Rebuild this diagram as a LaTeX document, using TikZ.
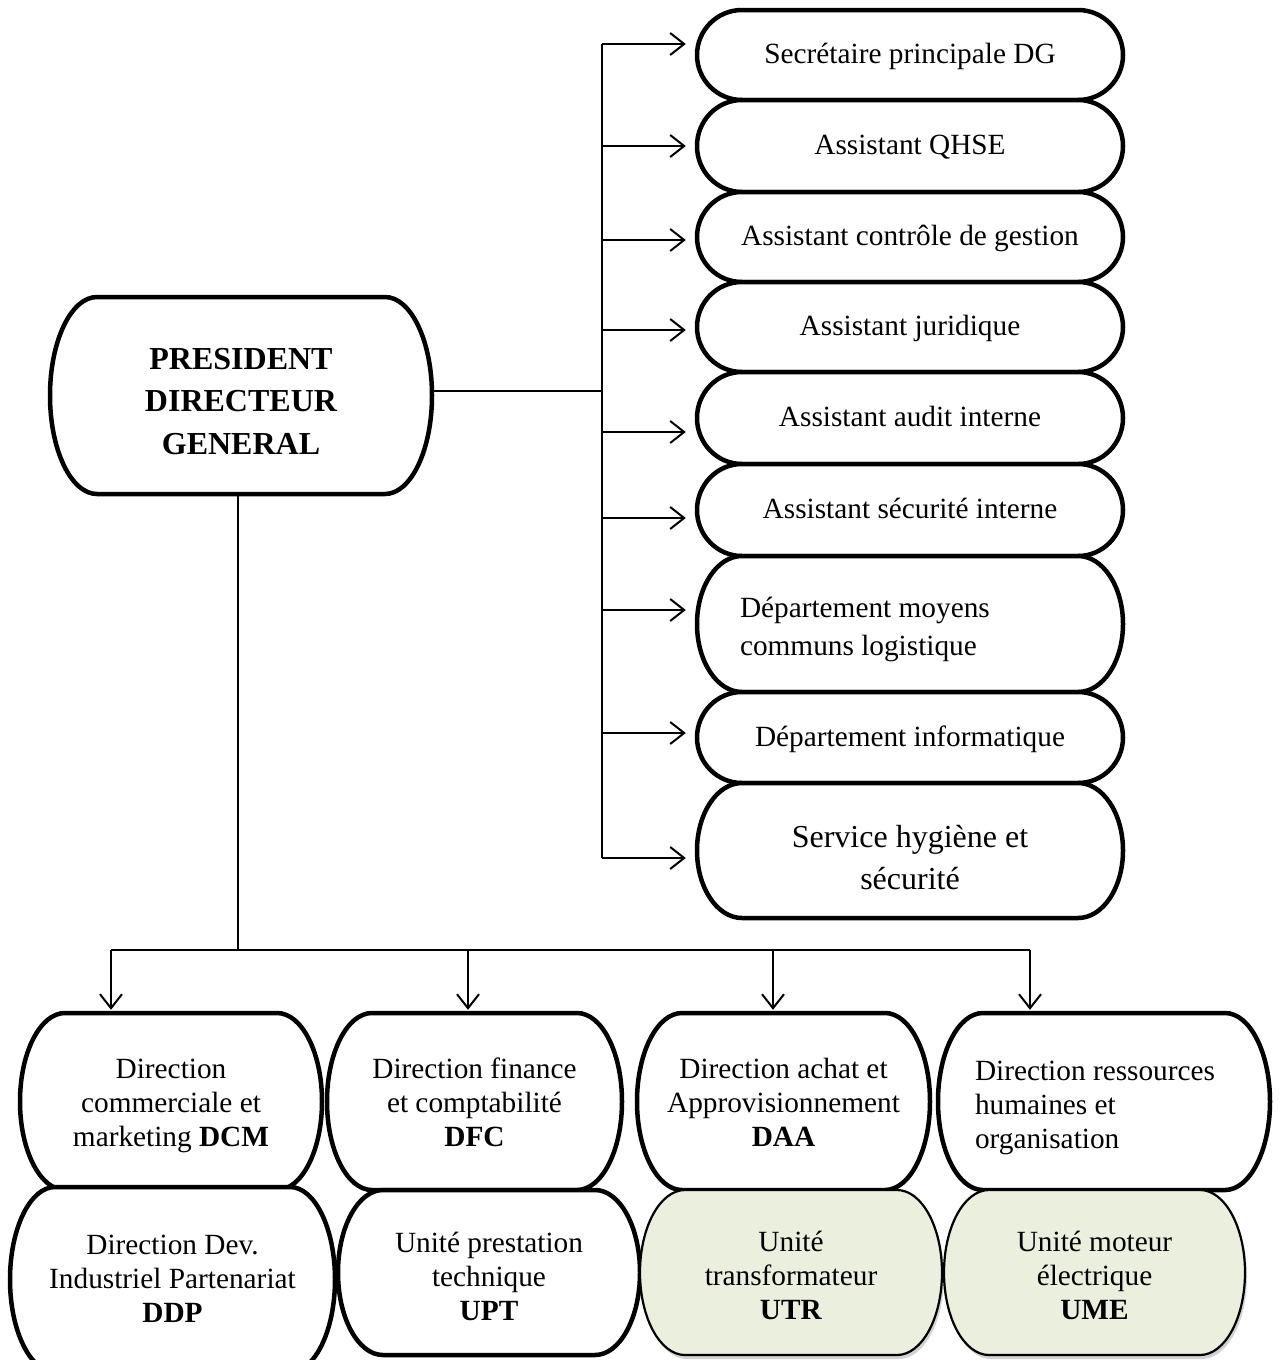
\documentclass[tikz,border=0pt]{standalone}
\usepackage{fontspec}
\setmainfont{Liberation Serif}
\usetikzlibrary{arrows.meta,shadows}
\definecolor{unitgreen}{RGB}{235,239,222}
\tikzset{
  boxline/.style={draw=black, line width=4.5pt, fill=white},
  greenline/.style={draw=black, line width=2.2pt, fill=unitgreen,
    drop shadow={shadow xshift=2pt, shadow yshift=-4pt, opacity=0.35}},
  conn/.style={line width=2pt},
  arr/.style={line width=2pt, -{Straight Barb[length=14pt,width=22pt,line width=2pt]}},
  txt/.style={inner sep=0pt, align=center, font=\fontsize{29.3}{34}\selectfont,
    execute at begin node=\strut, execute at end node=\strut, yshift=-2pt},
  bigtxt/.style={font=\fontsize{32}{42}\selectfont},
}
% [node options]{path style}{name}{x0}{y0}{x1}{y1}{rx}{text}
\newcommand\pill[9][]{%
  \pgfmathsetmacro\pxa{#4+#8}%
  \pgfmathsetmacro\pxb{#6-#8}%
  \pgfmathsetmacro\pry{(#7-#5)/2}%
  \pgfmathsetmacro\pcx{(#4+#6)/2}%
  \pgfmathsetmacro\pcy{(#5+#7)/2}%
  \pgfmathsetmacro\pw{#6-#4}%
  \pgfmathsetmacro\ph{#7-#5}%
  \path[#2] (\pxa,#5) -- (\pxb,#5)
     arc[start angle=90,end angle=-90,x radius=#8pt,y radius=\pry pt]
     -- (\pxa,#7)
     arc[start angle=270,end angle=90,x radius=#8pt,y radius=\pry pt] -- cycle;
  \node[txt, minimum width=\pw pt, minimum height=\ph pt, #1] (#3) at (\pcx,\pcy) {#9};
}
\begin{document}
\begin{tikzpicture}[x=1pt,y=-1pt]
\useasboundingbox (0,0) rectangle (1278,1360);
\fill[white] (0,0) rectangle (1278,1360);

% President
\pill[font=\fontsize{32}{42.5}\selectfont\bfseries, yshift=-10pt]{boxline}{pdg}{50}{297}{432}{494}{47}{PRESIDENT\\DIRECTEUR\\GENERAL}

% right column
\pill{boxline}{s1}{697}{10}{1123}{100}{45}{Secrétaire principale DG}
\pill{boxline}{s2}{697}{100}{1123}{192}{45}{Assistant QHSE}
\pill{boxline}{s3}{697}{192}{1123}{282}{45}{Assistant contrôle de gestion}
\pill{boxline}{s4}{697}{282}{1123}{372}{45}{Assistant juridique}
\pill{boxline}{s5}{697}{372}{1123}{464}{45}{Assistant audit interne}
\pill{boxline}{s6}{697}{464}{1123}{556}{45}{Assistant sécurité interne}
\pill[align=flush left, text width=340pt, font=\fontsize{29.3}{38}\selectfont, yshift=-3pt]{boxline}{s7}{697}{556}{1123}{692}{45}{Département moyens\\communs logistique}
\pill{boxline}{s8}{697}{692}{1123}{783}{45}{Département informatique}
\pill[bigtxt, yshift=-11pt]{boxline}{s9}{697}{783}{1123}{918}{45}{Service hygiène et\\sécurité}

% bottom row 1
\pill[yshift=-4pt]{boxline}{d1}{20}{1013}{322}{1190}{45}{Direction\\commerciale et\\marketing \textbf{DCM}}
\pill[yshift=-4pt]{boxline}{d2}{327}{1013}{622}{1190}{45}{Direction finance\\et comptabilité\\\textbf{DFC}}
\pill[yshift=-4pt]{boxline}{d3}{637}{1013}{930}{1190}{45}{Direction achat et\\Approvisionnement\\\textbf{DAA}}
\pill[align=flush left, text width=258pt, yshift=-4pt]{boxline}{d4}{938}{1013}{1270}{1190}{45}{Direction ressources\\humaines et\\organisation}

% bottom row 2
\pill[yshift=-2pt]{boxline}{e1}{10}{1187}{335}{1372}{45}{Direction Dev.\\Industriel Partenariat\\\textbf{DDP}}
\pill[yshift=-7pt]{boxline}{e2}{338}{1190}{640}{1355}{45}{Unité prestation\\technique\\\textbf{UPT}}
\pill[yshift=-6pt]{greenline}{e3}{640}{1190}{942}{1355}{45}{Unité\\transformateur\\\textbf{UTR}}
\pill[yshift=-6pt]{greenline}{e4}{944}{1190}{1245}{1355}{45}{Unité moteur\\électrique\\\textbf{UME}}

% bus to the right column
\coordinate (b1) at (602,44);
\coordinate (b2) at (602,146);
\coordinate (b3) at (602,240);
\coordinate (b4) at (602,330);
\coordinate (b5) at (602,432);
\coordinate (b6) at (602,518);
\coordinate (b7) at (602,610);
\coordinate (b8) at (602,733);
\coordinate (b9) at (602,858);
\coordinate (bj) at (602,391);
\draw[conn] (pdg.east |- bj) -- (bj);
\draw[conn] (b1) -- (b9);
\foreach \i in {1,...,9}{
  \draw[arr, shorten >=11pt] (b\i) -- (b\i -| s\i.west);
}

% trunk to the bottom rows
\coordinate (t0) at (238,950);
\coordinate (h1) at (111,950);
\coordinate (h2) at (468,950);
\coordinate (h3) at (773,950);
\coordinate (h4) at (1030,950);
\draw[conn] ([yshift=10pt]pdg.south -| t0) -- (t0);
\draw[conn] (h1) -- (h4);
\foreach \i in {1,...,4}{
  \draw[arr, shorten >=9pt] (h\i) -- (h\i |- d\i.north);
}
\end{tikzpicture}
\end{document}
